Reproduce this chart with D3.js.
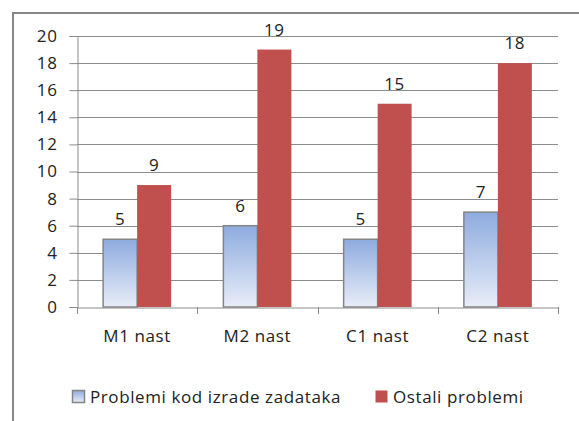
<!DOCTYPE html>
<html>
<head>
<meta charset="utf-8">
<script src="https://cdn.jsdelivr.net/npm/d3@7"></script>
<style>
  body { margin: 0; background: #fff; }
  svg text { font-family: "Open Sans", sans-serif; fill: #222; letter-spacing: 0.6px; }
</style>
</head>
<body>
<div id="chart"></div>
<script>
const categories = ["M1 nast", "M2 nast", "C1 nast", "C2 nast"];
const seriesNames = ["Problemi kod izrade zadataka", "Ostali problemi"];
const problemiKod = [5, 6, 5, 7];
const ostali = [9, 19, 15, 18];
const yTicks = [0, 2, 4, 6, 8, 10, 12, 14, 16, 18, 20];

const width = 579, height = 421;
const margin = { left: 77, right: 21, top: 36, bottom: 114 };
const fontSize = 17;

const svg = d3.select("#chart").append("svg")
  .attr("width", width)
  .attr("height", height);

// gradient for the blue series
const defs = svg.append("defs");
const grad = defs.append("linearGradient")
  .attr("id", "blueGrad")
  .attr("x1", 0).attr("y1", 0).attr("x2", 0).attr("y2", 1);
grad.append("stop").attr("offset", "0%").attr("stop-color", "#8eabdf");
grad.append("stop").attr("offset", "100%").attr("stop-color", "#e8edf8");

// outer frame (clipped on right and bottom like the original)
svg.append("rect")
  .attr("x", 13).attr("y", 13)
  .attr("width", width + 10).attr("height", height + 10)
  .attr("fill", "none")
  .attr("stroke", "#878787")
  .attr("stroke-width", 2);

const x = d3.scaleBand()
  .domain(categories)
  .range([margin.left, width - margin.right]);

const y = d3.scaleLinear()
  .domain([0, 20])
  .range([height - margin.bottom, margin.top]);

const barW = 34;

// gridlines
svg.append("g")
  .selectAll("line")
  .data(yTicks.filter(d => d > 0))
  .join("line")
  .attr("x1", margin.left).attr("x2", width - margin.right)
  .attr("y1", d => Math.round(y(d)) + 0.5).attr("y2", d => Math.round(y(d)) + 0.5)
  .attr("stroke", "#8c8c8c");

// y axis
const yAxis = svg.append("g")
  .attr("transform", `translate(${margin.left + 0.5},0)`)
  .call(d3.axisLeft(y).tickValues(yTicks).tickSize(8).tickPadding(12));
yAxis.select(".domain").attr("stroke", "#8c8c8c");
yAxis.selectAll(".tick line").attr("stroke", "#8c8c8c");
yAxis.selectAll(".tick text").attr("font-size", fontSize).attr("fill", "#222")
  .attr("font-family", "'Open Sans', sans-serif");

// x axis
const xAxis = svg.append("g")
  .attr("transform", `translate(0,${Math.round(y(0)) + 0.5})`)
  .call(d3.axisBottom(x).tickSize(0).tickPadding(22));
xAxis.select(".domain").attr("stroke", "#8c8c8c");
xAxis.selectAll(".tick text").attr("font-size", fontSize).attr("fill", "#222")
  .attr("font-family", "'Open Sans', sans-serif");
// category separator ticks
svg.append("g")
  .selectAll("line")
  .data(categories.map(c => x(c)).concat([x(categories[categories.length - 1]) + x.bandwidth()]))
  .join("line")
  .attr("x1", d => Math.round(d) + 0.5).attr("x2", d => Math.round(d) + 0.5)
  .attr("y1", y(0)).attr("y2", y(0) + 7)
  .attr("stroke", "#8c8c8c");

// bars
const groups = svg.append("g")
  .selectAll("g")
  .data(categories)
  .join("g");

groups.append("rect")
  .attr("x", d => x(d) + x.bandwidth() / 2 - barW)
  .attr("y", (d, i) => y(problemiKod[i]))
  .attr("width", barW)
  .attr("height", (d, i) => y(0) - y(problemiKod[i]))
  .attr("fill", "url(#blueGrad)")
  .attr("stroke", "#858585")
  .attr("stroke-width", 1.5);

groups.append("rect")
  .attr("x", d => x(d) + x.bandwidth() / 2)
  .attr("y", (d, i) => y(ostali[i]))
  .attr("width", barW)
  .attr("height", (d, i) => y(0) - y(ostali[i]))
  .attr("fill", "#c0504d");

// value labels
groups.append("text")
  .attr("x", d => x(d) + x.bandwidth() / 2 - barW / 2)
  .attr("y", (d, i) => y(problemiKod[i]) - 14)
  .attr("text-anchor", "middle")
  .attr("font-size", fontSize)
  .text((d, i) => problemiKod[i]);

groups.append("text")
  .attr("x", d => x(d) + x.bandwidth() / 2 + barW / 2)
  .attr("y", (d, i) => y(ostali[i]) - 14)
  .attr("text-anchor", "middle")
  .attr("font-size", fontSize)
  .text((d, i) => ostali[i]);

// legend
const legendItems = [
  { name: seriesNames[0], x: 72, fill: "url(#blueGrad)", stroke: "#858585" },
  { name: seriesNames[1], x: 375, fill: "#c0504d", stroke: "none" }
];
const legend = svg.append("g").selectAll("g")
  .data(legendItems)
  .join("g")
  .attr("transform", d => `translate(${d.x},390)`);
legend.append("rect")
  .attr("x", 0.5).attr("y", 0.5)
  .attr("width", 12).attr("height", 12)
  .attr("fill", d => d.fill)
  .attr("stroke", d => d.stroke)
  .attr("stroke-width", 1.5);
legend.append("text")
  .attr("x", 18).attr("y", 13)
  .attr("font-size", fontSize)
  .text(d => d.name);
</script>
</body>
</html>
